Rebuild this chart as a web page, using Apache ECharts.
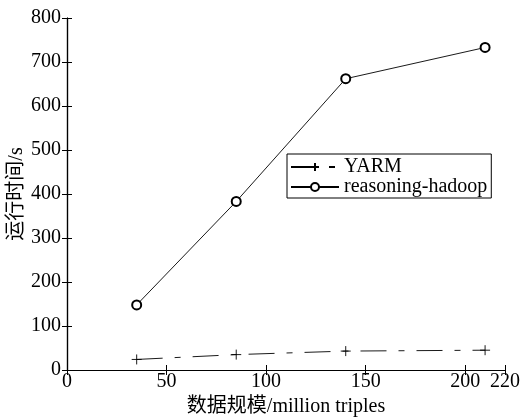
<!DOCTYPE html>
<html><head><meta charset="utf-8">
<script src="https://cdn.jsdelivr.net/npm/echarts@6/dist/echarts.min.js"></script>
<style>html,body{margin:0;padding:0;background:#fff}#c{width:523px;height:417px}</style>
</head><body><div id="c"></div>
<script>
const xValues = [35, 85, 140, 210];
const yarm = [24, 35, 43, 45];
const hadoop = [148, 383, 662, 733];
const seriesNames = ['YARM', 'reasoning-hadoop'];
const xAxisName = '数据规模/million triples';
const yAxisName = '运行时间/s';

const FONT = '"Liberation Serif","Noto Sans CJK SC",serif';
const chart = echarts.init(document.getElementById('c'), null, {renderer: 'canvas'});
const plus = 'path://M5,0L5,10M0,5L10,5';
const axisBase = {
  axisLine: {show: true, lineStyle: {color: '#000', width: 1.2}},
  axisTick: {show: true, inside: true, length: 5, lineStyle: {color: '#000'}},
  splitLine: {show: false}
};
chart.setOption({
  animation: false,
  backgroundColor: '#fff',
  grid: {left: 67, right: 18, top: 18, bottom: 47, outerBoundsMode: 'none', containLabel: false},
  legend: {
    orient: 'vertical', left: 287, top: 154,
    backgroundColor: '#fff', borderColor: '#000', borderWidth: 1,
    padding: [3, 4, 1, 3], itemGap: 0, itemWidth: 48, itemHeight: 10,
    textStyle: {fontFamily: FONT, fontSize: 20, lineHeight: 20, color: '#000'},
    data: seriesNames
  },
  xAxis: [
    Object.assign({type: 'value', min: 0, max: 220, interval: 50,
      name: xAxisName, nameLocation: 'middle', nameGap: 27, nameMoveOverlap: false,
      nameTextStyle: {fontFamily: FONT, fontSize: 20, color: '#000'},
      axisLabel: {fontFamily: FONT, fontSize: 20, color: '#000', margin: 2}}, axisBase),
    Object.assign({type: 'value', min: 0, max: 220, interval: 50, position: 'top',
      axisLabel: {show: false}}, axisBase)
  ],
  yAxis: [
    Object.assign({type: 'value', min: 0, max: 800, interval: 100,
      name: yAxisName, nameLocation: 'middle', nameGap: 40, nameMoveOverlap: false,
      nameTextStyle: {fontFamily: FONT, fontSize: 20, color: '#000'},
      axisLabel: {fontFamily: FONT, fontSize: 20, color: '#000', margin: 6}}, axisBase),
    Object.assign({type: 'value', min: 0, max: 800, interval: 100, position: 'right',
      axisLabel: {show: false}}, axisBase)
  ],
  series: [
    {
      name: seriesNames[0], type: 'line',
      data: xValues.map((x, i) => [x, yarm[i]]),
      symbol: plus, symbolSize: 10,
      itemStyle: {color: '#000', borderColor: '#000', borderWidth: 0.9},
      lineStyle: {color: '#000', width: 0.9, type: [26, 12, 6, 12]}
    },
    {
      name: seriesNames[1], type: 'line',
      data: xValues.map((x, i) => [x, hadoop[i]]),
      symbol: 'emptyCircle', symbolSize: 9,
      itemStyle: {color: '#000', borderColor: '#000', borderWidth: 0.8},
      lineStyle: {color: '#000', width: 0.9}
    }
  ]
});
</script></body></html>
